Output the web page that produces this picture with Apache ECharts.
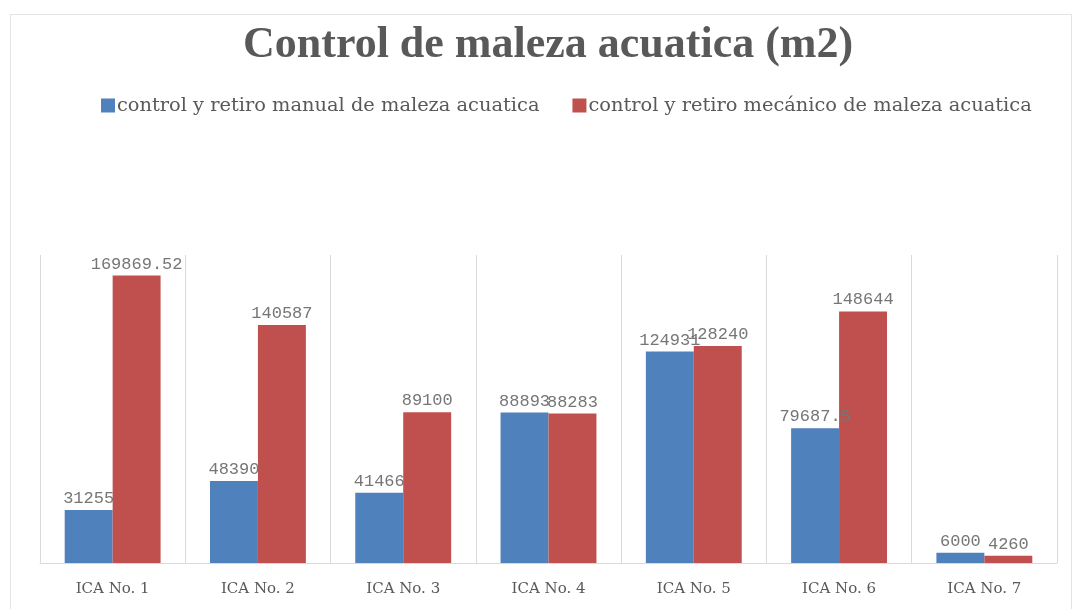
<!DOCTYPE html>
<html>
<head>
<meta charset="utf-8">
<script src="https://cdn.jsdelivr.net/npm/echarts@6/dist/echarts.min.js"></script>
<style>
html, body { margin: 0; padding: 0; background: #fff; }
#frame { position: absolute; left: 10px; top: 14px; width: 1062px; height: 600px; border: 1px solid #e4e4e4; box-sizing: border-box; }
#chart { width: 1074px; height: 609px; }
</style>
</head>
<body>
<div id="frame"></div>
<div id="chart"></div>
<script>
var categories = ['ICA No. 1', 'ICA No. 2', 'ICA No. 3', 'ICA No. 4', 'ICA No. 5', 'ICA No. 6', 'ICA No. 7'];
var manual = [31255, 48390, 41466, 88893, 124931, 79687.5, 6000];
var mecanico = [169869.52, 140587, 89100, 88283, 128240, 148644, 4260];
var seriesNames = ['control y retiro manual de maleza acuatica', 'control y retiro mecánico de maleza acuatica'];

var chart = echarts.init(document.getElementById('chart'));
var labelStyle = {
    show: true, position: 'top', distance: 3,
    color: '#767676', fontSize: 17, fontFamily: '"Liberation Mono", "DejaVu Sans Mono", monospace'
};
var option = {
    animation: false,
    color: ['#4f81bd', '#c0504d'],
    title: {
        text: 'Control de maleza acuatica (m2)', left: 238, top: 19,
        textStyle: { fontFamily: '"Liberation Serif", serif', fontWeight: 'bold', fontSize: 44, color: '#595959' }
    },
    legend: {
        top: 91, left: 96, itemWidth: 14, itemHeight: 14, itemGap: 33,
        icon: 'rect',
        textStyle: { fontFamily: '"DejaVu Serif", serif', fontSize: 19.4, color: '#595959', padding: [0, 0, 0, -3] },
        data: seriesNames
    },
    grid: { left: 40, right: 17, top: 255, bottom: 46 },
    xAxis: {
        type: 'category', data: categories,
        axisLine: { lineStyle: { color: '#d9d9d9' } },
        axisTick: { show: false },
        axisLabel: { fontFamily: '"DejaVu Serif", serif', fontSize: 15, color: '#595959', margin: 19 },
        splitLine: { show: true, lineStyle: { color: '#d9d9d9' } }
    },
    yAxis: { type: 'value', min: 0, max: 182000, show: false },
    series: [
        { name: seriesNames[0], type: 'bar', data: manual, barGap: '0%', barCategoryGap: '34%', label: labelStyle },
        { name: seriesNames[1], type: 'bar', data: mecanico, label: labelStyle }
    ]
};
chart.setOption(option);
</script>
</body>
</html>
